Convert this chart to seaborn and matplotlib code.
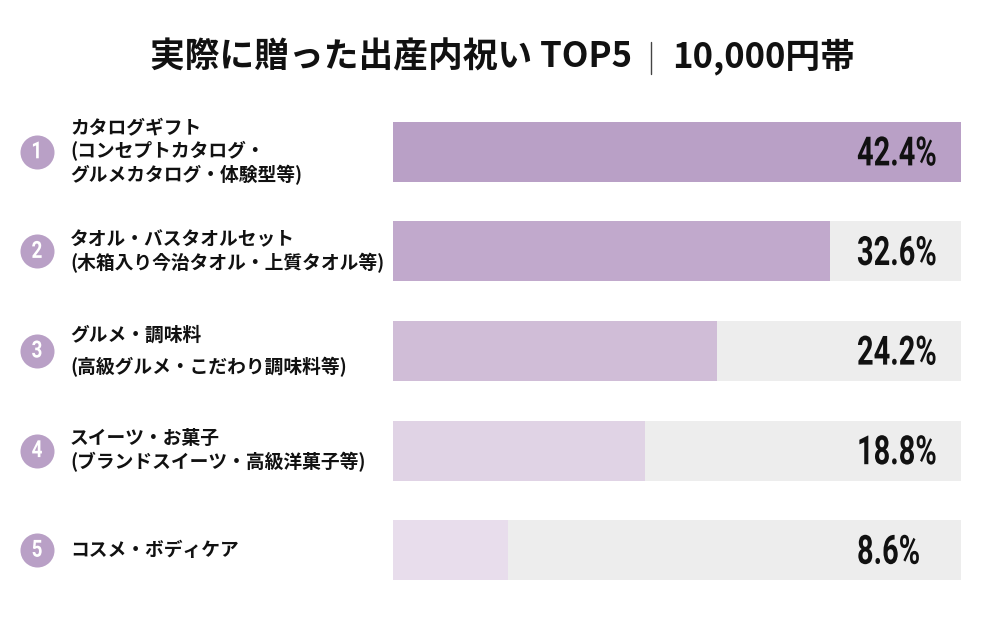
import numpy as np
import pandas as pd
import matplotlib
matplotlib.use("Agg")
import matplotlib.pyplot as plt
import seaborn as sns
from matplotlib import transforms, patheffects
from matplotlib.lines import Line2D

# datos del ranking
ranks = ["1", "2", "3", "4", "5"]
items = [
    "カタログギフト\n(コンセプトカタログ・\nグルメカタログ・体験型等)",
    "タオル・バスタオルセット\n(木箱入り今治タオル・上質タオル等)",
    "グルメ・調味料\n(高級グルメ・こだわり調味料等)",
    "スイーツ・お菓子\n(ブランドスイーツ・高級洋菓子等)",
    "コスメ・ボディケア",
]
values = [42.4, 32.6, 24.2, 18.8, 8.6]

# estilos
bar_colors = ["#b9a0c6", "#c1a9cc", "#d0bdd7", "#e0d3e5", "#e8ddec"]
track_color = "#ededed"
circle_color = "#b9a0c6"
label_spacing = [1.2, 1.2, 1.75, 1.2, 1.2]


class Squeeze(patheffects.AbstractPathEffect):
    """Estrecha el texto horizontalmente (tipo fuente condensada)."""

    def __init__(self, sx, anchor="left"):
        super().__init__()
        self.sx = sx
        self.anchor = anchor

    def draw_path(self, renderer, gc, tpath, affine, rgbFace=None):
        cx = 0.0
        if self.anchor == "center":
            ext = tpath.get_extents()
            cx = (ext.x0 + ext.x1) / 2
        t = transforms.Affine2D().translate(-cx, 0).scale(self.sx, 1).translate(cx, 0)
        renderer.draw_path(gc, tpath, t + affine, rgbFace)


sns.set_theme(style="white")
plt.rcParams["font.family"] = ["Noto Sans CJK JP", "DejaVu Sans"]
num_font = ["Roboto", "DejaVu Sans"]

fig = plt.figure(figsize=(10, 6.19), dpi=100)
ax = fig.add_axes([0.393, 1 - 600 / 619, 0.568, 498 / 619])

df = pd.DataFrame({"rank": ranks, "item": items, "value": values})
df["full"] = max(values)

# barra de fondo gris y barra de valor
sns.barplot(data=df, x="full", y="rank", orient="h", color=track_color,
            saturation=1, width=0.603, linewidth=0, ax=ax)
sns.barplot(data=df, x="value", y="rank", hue="rank", orient="h",
            palette=bar_colors, saturation=1, width=0.603, linewidth=0,
            legend=False, ax=ax)
ax.set_xlim(0, max(values))
ax.set_ylim(len(ranks) - 0.5, -0.5)
ax.axis("off")

blend = transforms.blended_transform_factory(fig.transFigure, ax.transData)
down = transforms.ScaledTranslation(0, -9.8 / 72, fig.dpi_scale_trans)

for i, row in df.iterrows():
    # circulo con numero
    ax.plot([0.037], [i], "o", markersize=24.5, color=circle_color,
            markeredgewidth=0, transform=blend, clip_on=False)
    ax.text(0.037, i, row["rank"], transform=blend, ha="center", va="center",
            color="white", fontsize=17, family=num_font, weight="bold",
            path_effects=[Squeeze(0.8, "center")])
    # etiqueta
    ax.text(0.070, i, row["item"], transform=blend, ha="left", va="center",
            fontsize=13.5, weight="bold", color="#111111",
            linespacing=label_spacing[i])
    # porcentaje
    ax.text(0.857, i, f"{row['value']:.1f}%", transform=blend + down,
            ha="left", va="baseline", fontsize=29, family=num_font,
            weight="bold", color="#111111", path_effects=[Squeeze(0.72)])

# titulo
ty = 1 - 57 / 619
fig.text(0.632, ty, "実際に贈った出産内祝い TOP5", ha="right", va="center",
         fontsize=25, weight="bold", color="#111111")
fig.text(0.672, ty, "10,000円帯", ha="left", va="center",
         fontsize=25, weight="bold", color="#111111")
fig.add_artist(Line2D([0.651, 0.651], [1 - 42 / 619, 1 - 74 / 619],
                      color="#444444", lw=1, transform=fig.transFigure))

fig.savefig("out.png", dpi=100)
